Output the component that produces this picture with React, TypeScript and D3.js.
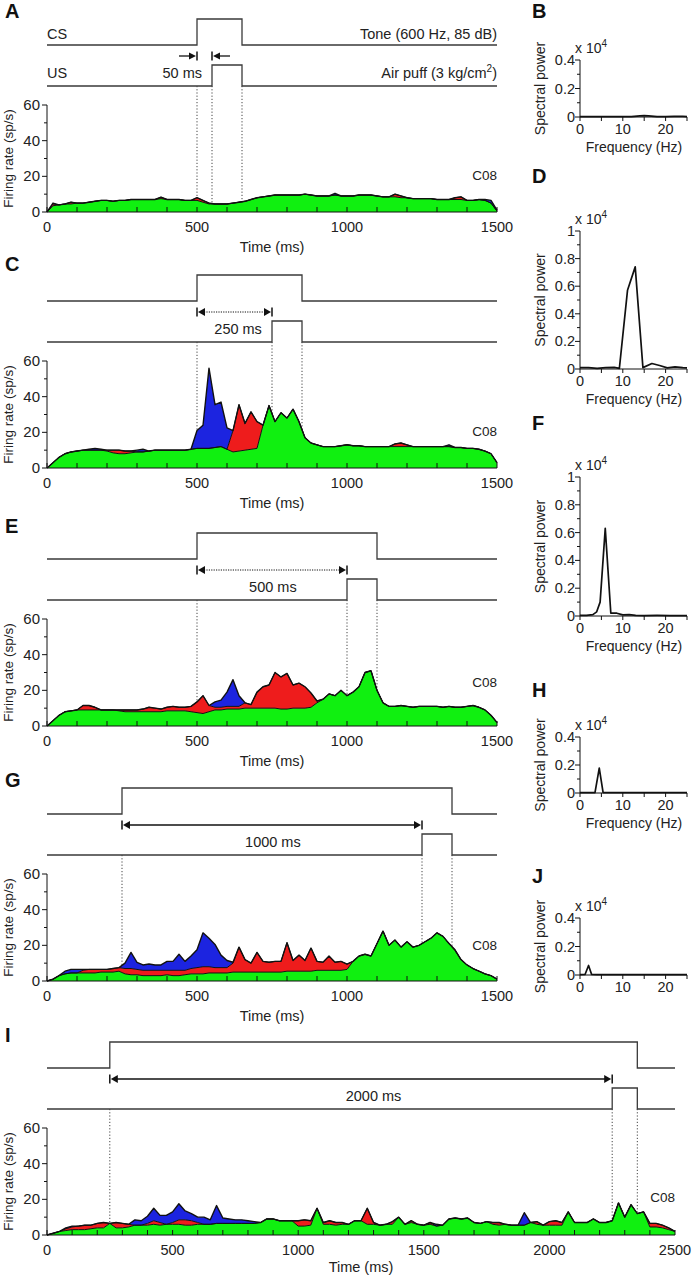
import React from "react";
import * as d3 from "d3";

const FONT = "'Liberation Sans', Arial, Helvetica, sans-serif";
const GREEN = "#10f010";
const RED = "#ee1c1c";
const BLUE = "#1c24e0";
const STIM = "#3a3a3a";

// ---------------- Firing-rate histograms (sp/s) ----------------
// A–G: 20 ms bins, 0..1500 ms; I: 25 ms bins, 0..2500 ms
// green = base layer height, red / blue = stacked layer thickness
const aGreen = [
  0, 3.5, 4, 4.5, 4.5, 5, 5, 5.5, 6, 6.5,
  6.5, 6, 6.5, 6.5, 7, 7, 7, 7, 7, 7.5,
  7, 7, 7, 6.5, 6.5, 6.5, 5.5, 4.5, 4.5, 4.5,
  4.5, 5, 5.5, 6, 7, 8, 8.5, 9, 9.5, 9.5,
  9.5, 9.5, 9.5, 10, 9.5, 9, 9, 9, 9.5, 9,
  9, 9, 9.5, 9.5, 9.5, 9, 8.5, 8.5, 8.5, 8,
  8, 7.5, 7.5, 7.5, 7.5, 7, 7, 7, 7, 7,
  6.5, 6.5, 7, 6.5, 5, 0.5,
];
const aRed = [
  0, 1, 0, 0, 1, 0, 0, 0, 0, 0,
  0, 0, 0, 0, 0, 0, 0, 0, 0, 0.8,
  0, 0, 0, 0, 0, 1.5, 1, 0.5, 0, 0,
  0, 0, 0, 0, 0, 0, 0, 0, 0, 0,
  0, 0, 0, 0, 0, 0, 0, 0, 0, 0,
  0, 0, 0, 0, 0, 0, 0, 0, 1.5, 1,
  0, 0, 0, 0, 0, 0, 0, 0, 1, 1.5,
  0, 0, 0, 0, 0, 0,
];
const aBlue = [
  0, 0.5, 0, 0, 0, 0, 0, 0, 0, 0,
  0, 0, 0, 0, 0, 0, 0, 0, 0, 0,
  0, 0, 0, 0, 0, 0, 0, 0, 0, 0,
  0, 0, 0, 0, 0, 0, 0, 0, 0, 0,
  0, 0, 0, 0, 0, 0, 0, 0, 1, 0,
  0, 0, 0, 0, 0, 0, 0, 0, 0, 0,
  0, 0, 0, 0, 0, 0, 0, 0, 0, 0,
  0, 0, 0, 0.5, 1.5, 0.5,
];

const cGreen = [
  0, 3, 6, 8, 9, 9.5, 10, 10, 10, 10,
  9.5, 8.5, 8, 8, 8.5, 9, 9, 9.5, 10, 10,
  10, 10, 10, 10, 10.5, 11, 11, 11, 11.5, 12,
  10.5, 9, 9.5, 10, 10.5, 11, 24, 35, 26, 31,
  28, 33, 26, 17, 14, 13, 12, 12, 12, 12.5,
  13, 12.5, 12.5, 12, 12, 12, 12, 12, 12, 12,
  12, 12, 12, 12, 12, 12, 12, 12, 11.5, 11.5,
  11, 11, 10.5, 9.5, 8, 3,
];
const cRed = [
  0, 0, 0, 0, 0, 0, 0, 0, 0, 0,
  0.5, 1.5, 2, 1.5, 1, 0, 0, 0, 0, 0,
  0, 0, 0, 0, 0, 0, 0, 0, 0, 0,
  0, 12, 26, 15, 21, 15, 0, 0, 0, 0,
  0, 0, 0, 0, 0, 0, 0, 0, 0, 0,
  0, 0, 0, 0, 0, 0, 0, 0, 1.5, 2,
  1, 0, 0, 0, 0, 0, 0, 0, 0, 0,
  0, 0, 0, 0, 0, 0,
];
const cBlue = [
  0, 0, 0, 0, 0, 0, 0, 0.5, 1, 0.5,
  0, 0, 0, 0, 0, 1, 1.5, 0, 0, 0,
  0, 0, 0, 0, 0, 10, 13, 45, 24, 25,
  12, 0, 0, 0, 0, 0, 0, 0, 0, 0,
  0, 0, 0, 0, 0, 0, 0, 0, 0, 0,
  0, 0, 0, 0, 0, 0, 0, 0, 0, 0,
  0, 0, 0, 0, 0, 0, 0, 1, 0, 0,
  0, 0, 0, 0, 0, 0,
];

const eGreen = [
  0, 3, 6, 8, 8.5, 9, 9, 9, 9, 9,
  9, 9, 8.5, 8, 8, 8, 8, 8, 8, 8,
  8.5, 8.5, 8.5, 8.5, 8, 7.5, 7, 8, 9, 9,
  9.5, 9.5, 9.5, 10, 10, 10, 10, 10, 10, 9.5,
  9.5, 10, 10, 10, 10.5, 13, 15, 18, 17, 20,
  17, 19, 22, 30, 31, 20, 13, 11, 11, 11.5,
  11, 10.5, 11, 11, 11, 11, 10.5, 11, 10.5, 10.5,
  11, 11.5, 10.5, 9, 6, 2,
];
const eRed = [
  0, 0, 0, 0, 0, 0, 2.5, 2.5, 1.5, 0,
  0, 0, 0.5, 1, 1, 1, 1.5, 2.5, 2, 1.5,
  2, 2.5, 2, 2, 3, 6, 10, 3.5, 1.5, 1.5,
  1.5, 1.5, 1.5, 3, 2, 9, 12, 13, 20, 18,
  20, 13, 14, 12, 8, 1, 0, 0, 0, 0,
  0, 0, 0, 0, 0, 0, 0, 0, 0, 0,
  0, 0, 0, 0, 0, 0, 0, 0, 0, 0,
  0, 0, 0, 0, 0, 0,
];
const eBlue = [
  0, 0, 0, 0, 0, 0, 0, 0, 0, 0,
  0, 0, 0, 0, 0, 0, 0, 0, 0, 0,
  0, 0, 0, 0, 0, 0, 0, 0, 3, 4,
  8, 15, 6, 0, 0, 0, 0, 0, 0, 0,
  0, 0, 0, 0, 0, 0, 0, 0, 0, 0,
  0, 0, 0, 0, 0, 0, 0, 0, 0, 0,
  0, 0, 0, 0, 0, 0, 0, 0, 0, 0,
  0, 0, 0, 0, 0, 0,
];

const gGreen = [
  0, 1, 3, 4, 4.5, 4.5, 4.5, 4.5, 4.5, 5,
  5, 5, 5.5, 4, 3.5, 3.5, 3, 3, 3, 3,
  3.5, 3, 3, 3.5, 4, 4, 4, 4.5, 4.5, 4.5,
  4.5, 5, 5, 5, 5, 5, 5, 5, 5, 5,
  5.5, 5.5, 5.5, 5.5, 5.5, 6, 6, 6, 6, 6,
  6.5, 11, 14, 15, 14, 21, 28, 20, 23, 19,
  22, 19, 20, 22, 24, 27, 25, 21, 17, 12,
  9, 7, 5.5, 4, 3, 1,
];
const gRed = [
  0, 0, 0, 0, 0, 0, 1.5, 2, 2, 1.5,
  1.5, 2, 2, 3, 3.5, 3, 3, 3, 3, 3,
  2.5, 3, 3, 2.5, 3, 3.5, 4, 3.5, 3, 3,
  3, 5, 14, 7, 5, 11, 6, 5.5, 6, 6,
  16, 6, 9, 6, 13, 5, 4.5, 8, 4.5, 5,
  3, 0, 0, 0, 0, 0, 0, 0, 0, 0,
  0, 0, 0, 0, 0, 0, 0, 0, 0.5, 0,
  0, 0, 0, 0, 0, 0,
];
const gBlue = [
  0, 0, 0, 1.5, 2, 2, 0.5, 0, 0, 0,
  0, 0, 0, 3, 9, 4, 3, 3.5, 3, 3,
  5, 5, 9, 5, 7, 10, 19, 16, 13, 7,
  4, 0.5, 0, 0, 0, 0, 0, 0, 0, 0,
  0, 0, 0, 0, 0, 0, 0, 0, 0, 0,
  0, 0, 0, 0, 0, 0, 0, 0, 0, 0,
  0, 0, 0, 0, 0, 0, 0, 0, 0, 0,
  0, 0, 0, 0, 0, 0,
];

const iGreen = [
  0, 1, 2, 2.5, 3, 3, 3, 3.5, 4, 4,
  6.5, 4, 4, 4.5, 5.5, 5.5, 5.5, 6, 5.5, 6,
  6, 6, 5.5, 5.5, 6, 6, 6, 6.5, 6.5, 6.5,
  6.5, 6.5, 6.5, 6.5, 7, 9, 9, 8, 8, 8,
  5, 5, 5.5, 15, 6, 6, 5.5, 6, 6, 8,
  8, 6, 6, 5.5, 6, 6, 10, 6, 7, 6,
  5.5, 6, 5, 5.5, 9, 9.5, 9, 9.5, 7, 6.5,
  7.5, 6, 5.5, 6, 5.5, 5.5, 5.5, 7, 6, 5.5,
  5.5, 5.5, 5.5, 13, 7, 7, 7, 9, 7, 7,
  8, 18, 10, 17, 12, 13, 4.5, 4.5, 4, 3,
  2,
];
const iRed = [
  0, 0, 0, 1, 1.5, 2, 2.5, 2, 2.5, 3,
  0, 3, 2.5, 1.5, 0, 0, 1, 2, 1.5, 0,
  1, 2.5, 3, 2.5, 1, 0, 0, 0, 0, 0,
  0, 0, 0, 0, 0, 0, 0, 0, 0, 0,
  3, 3.5, 2.5, 0, 1, 2, 1.5, 1, 0, 0,
  0, 9, 1, 0, 0, 1.5, 0, 0, 1, 0,
  0, 1, 0, 0, 0, 0, 0, 0, 0, 0,
  0, 1, 1.5, 0, 0, 0, 0, 0, 1.5, 0,
  2, 2.5, 1.5, 0, 0, 0, 0, 0, 0, 0,
  0, 0, 0, 0, 0, 0, 2, 2, 1.5, 1,
  0,
];
const iBlue = [
  0, 0, 0, 0.5, 0.5, 0, 0, 0, 0, 0,
  0, 0, 0, 0, 3, 2.5, 4, 7, 4, 5,
  6, 9, 5, 4, 3, 4, 2.5, 10, 3, 2.5,
  2, 2, 1.5, 1, 0, 0, 0, 0, 0, 0,
  0, 0, 0, 0, 0, 0, 0, 0, 0, 0,
  0, 0, 0, 0, 0, 0, 0, 0, 0, 0,
  0, 0, 1, 0, 0, 0, 0, 0, 0, 0,
  0, 0, 0, 0, 0, 0, 7, 0, 0, 0,
  0, 0, 0, 0, 0, 0, 0, 0, 0, 0,
  0, 0, 0, 0, 0, 0, 0, 0, 0, 0,
  0,
];

// ---------------- Spectral power (x 10^4) ----------------
const bFreq = [0, 2, 4, 6, 8, 10, 12, 14, 15, 16, 18, 20, 22, 24, 25];
const bPow = [0.003, 0.003, 0.002, 0.002, 0.002, 0.002, 0.003, 0.008, 0.01, 0.008, 0.003, 0.002, 0.004, 0.005, 0.003];
const dFreq = [0, 2, 4, 6, 8, 9.2, 11.1, 12.9, 14.7, 16.8, 18.6, 20.4, 22.2, 24, 25];
const dPow = [0.01, 0.01, 0.005, 0.01, 0.012, 0.005, 0.57, 0.74, 0.01, 0.04, 0.025, 0.008, 0.015, 0.01, 0.008];
const fFreq = [0, 1.5, 3, 3.9, 4.7, 5.9, 7.2, 8.6, 10, 11.5, 13, 15, 18, 21, 25];
const fPow = [0.005, 0.005, 0.01, 0.03, 0.1, 0.63, 0.02, 0.02, 0.008, 0.01, 0.005, 0.003, 0.004, 0.003, 0.002];
const hFreq = [0, 2, 3.5, 4.5, 5.4, 7, 10, 15, 20, 25];
const hPow = [0.002, 0.002, 0.003, 0.178, 0.003, 0.002, 0.002, 0.002, 0.002, 0.002];
const jFreq = [0, 1.2, 2.0, 2.7, 4, 8, 15, 25];
const jPow = [0.003, 0.005, 0.067, 0.005, 0.003, 0.003, 0.002, 0.002];

const timeTickLabels1500 = [0, 500, 1000, 1500];
const timeTickLabels2500 = [0, 500, 1000, 1500, 2000, 2500];
const rateTickLabels = [0, 20, 40, 60];
const freqTickLabels = [0, 10, 20];

type FiringCfg = {
  letter: string;
  top: number;
  tMax: number;
  step: number;
  green: number[];
  red: number[];
  blue: number[];
  xRight: number;
  csOn: number;
  usOn: number;
  usOff: number;
  kind: "A" | "dotted" | "solid";
  durText: string;
  durT: number;
  c08Off: number;
  letterOff: number;
  timeLabels: number[];
  titleOff: number;
};

const FIRING: FiringCfg[] = [
  { letter: "A", top: 19, tMax: 1500, step: 20, green: aGreen, red: aRed, blue: aBlue, xRight: 497, csOn: 500, usOn: 550, usOff: 650, kind: "A", durText: "50 ms", durT: 0, c08Off: 32, letterOff: -1, timeLabels: timeTickLabels1500, titleOff: 40 },
  { letter: "C", top: 275, tMax: 1500, step: 20, green: cGreen, red: cRed, blue: cBlue, xRight: 497, csOn: 500, usOn: 750, usOff: 850, kind: "dotted", durText: "250 ms", durT: 637, c08Off: 32, letterOff: -4, timeLabels: timeTickLabels1500, titleOff: 40 },
  { letter: "E", top: 533, tMax: 1500, step: 20, green: eGreen, red: eRed, blue: eBlue, xRight: 497, csOn: 500, usOn: 1000, usOff: 1100, kind: "dotted", durText: "500 ms", durT: 753, c08Off: 39, letterOff: 0, timeLabels: timeTickLabels1500, titleOff: 40 },
  { letter: "G", top: 788, tMax: 1500, step: 20, green: gGreen, red: gRed, blue: gBlue, xRight: 497, csOn: 250, usOn: 1250, usOff: 1350, kind: "solid", durText: "1000 ms", durT: 753, c08Off: 31, letterOff: -1, timeLabels: timeTickLabels1500, titleOff: 40 },
  { letter: "I", top: 1042, tMax: 2500, step: 25, green: iGreen, red: iRed, blue: iBlue, xRight: 675, csOn: 250, usOn: 2250, usOff: 2350, kind: "solid", durText: "2000 ms", durT: 1300, c08Off: 33, letterOff: 0, timeLabels: timeTickLabels2500, titleOff: 37 },
];

type SpecCfg = {
  letter: string;
  letterY: number;
  top: number;
  bottom: number;
  yMax: number;
  freq: number[];
  pow: number[];
  showXTitle: boolean;
};

const SPECTRA: SpecCfg[] = [
  { letter: "B", letterY: 18, top: 60, bottom: 117, yMax: 0.4, freq: bFreq, pow: bPow, showXTitle: true },
  { letter: "D", letterY: 183, top: 231, bottom: 369, yMax: 1, freq: dFreq, pow: dPow, showXTitle: true },
  { letter: "F", letterY: 430, top: 477, bottom: 616, yMax: 1, freq: fFreq, pow: fPow, showXTitle: true },
  { letter: "H", letterY: 697, top: 737, bottom: 793, yMax: 0.4, freq: hFreq, pow: hPow, showXTitle: true },
  { letter: "J", letterY: 883, top: 918, bottom: 975, yMax: 0.4, freq: jFreq, pow: jPow, showXTitle: false },
];

const X0 = 47;

function FiringPanel({ cfg }: { cfg: FiringCfg }) {
  const { top, tMax, step, green, red, blue, xRight } = cfg;
  const x = d3.scaleLinear().domain([0, tMax]).range([X0, xRight]);
  const y = d3.scaleLinear().domain([0, 60]).range([top + 193, top + 86]);
  const y0 = y(0);

  const pts = green.map((g, i) => {
    const r = g + (red[i] || 0);
    const b = r + (blue[i] || 0);
    return { t: i * step, g, r, b };
  });
  type P = (typeof pts)[number];
  const areaG = d3.area<P>().x((d) => x(d.t)).y0(y0).y1((d) => y(d.g))(pts) || "";
  const areaR = d3.area<P>().x((d) => x(d.t)).y0((d) => y(d.g)).y1((d) => y(d.r))(pts) || "";
  const areaB = d3.area<P>().x((d) => x(d.t)).y0((d) => y(d.r)).y1((d) => y(d.b))(pts) || "";
  const lineG = d3.line<P>().x((d) => x(d.t)).y((d) => y(d.g))(pts) || "";
  const lineR = d3.line<P>().x((d) => x(d.t)).y((d) => y(d.r))(pts) || "";
  const lineB = d3.line<P>().x((d) => x(d.t)).y((d) => y(d.b))(pts) || "";

  const csHigh = top;
  const csLow = top + 26;
  const arrowY = top + 37;
  const usHigh = top + 46;
  const usLow = top + 67;
  const xOn = x(cfg.csOn);
  const xUs = x(cfg.usOn);
  const xOff = x(cfg.usOff);

  const csPath = `M${X0},${csLow}H${xOn}V${csHigh}H${xOff}V${csLow}H${xRight}`;
  const usPath = `M${X0},${usLow}H${xUs}V${usHigh}H${xOff}V${usLow}H${xRight}`;

  const minorX = d3.range(0, tMax + 1, 100);
  const yTicks = d3.range(0, 61, 10);

  return (
    <g>
      <text x={5} y={top + cfg.letterOff} fontSize={20} fontWeight="bold" fill="#111">
        {cfg.letter}
      </text>
      {/* stimulus traces */}
      <path d={csPath} fill="none" stroke={STIM} strokeWidth={1.3} />
      <path d={usPath} fill="none" stroke={STIM} strokeWidth={1.3} />
      {/* dotted event markers */}
      {[xOn, xUs, xOff].map((xx, i) => (
        <line key={i} x1={xx} x2={xx} y1={usLow} y2={y0} stroke="#444" strokeWidth={1} strokeDasharray="1.2,2" />
      ))}
      {cfg.kind === "A" ? (
        <g stroke="#111" fill="#111">
          <line x1={xOn - 18} x2={xOn - 6} y1={arrowY} y2={arrowY} strokeWidth={1.3} />
          <path d={`M${xOn - 8},${arrowY - 3.5}L${xOn - 1},${arrowY}L${xOn - 8},${arrowY + 3.5}Z`} stroke="none" />
          <line x1={xOn} x2={xOn} y1={arrowY - 4.5} y2={arrowY + 4.5} strokeWidth={1.5} />
          <line x1={xUs} x2={xUs} y1={arrowY - 4.5} y2={arrowY + 4.5} strokeWidth={1.5} />
          <path d={`M${xUs + 8},${arrowY - 3.5}L${xUs + 1},${arrowY}L${xUs + 8},${arrowY + 3.5}Z`} stroke="none" />
          <line x1={xUs + 6} x2={xUs + 18} y1={arrowY} y2={arrowY} strokeWidth={1.3} />
        </g>
      ) : (
        <g stroke="#111" fill="#111">
          <line
            x1={xOn + 7}
            x2={xUs - 7}
            y1={arrowY}
            y2={arrowY}
            strokeWidth={cfg.kind === "dotted" ? 1 : 1.3}
            strokeDasharray={cfg.kind === "dotted" ? "1.2,1.2" : undefined}
          />
          <line x1={xOn} x2={xOn} y1={arrowY - 4.5} y2={arrowY + 4.5} strokeWidth={1.5} />
          <path d={`M${xOn + 8},${arrowY - 4}L${xOn + 1},${arrowY}L${xOn + 8},${arrowY + 4}Z`} stroke="none" />
          <line x1={xUs} x2={xUs} y1={arrowY - 4.5} y2={arrowY + 4.5} strokeWidth={1.5} />
          <path d={`M${xUs - 8},${arrowY - 4}L${xUs - 1},${arrowY}L${xUs - 8},${arrowY + 4}Z`} stroke="none" />
        </g>
      )}
      {cfg.kind === "A" ? (
        <g fontSize={14.5} fill="#222">
          <text x={X0} y={csLow - 6}>CS</text>
          <text x={xRight} y={csLow - 6} textAnchor="end">Tone (600 Hz, 85 dB)</text>
          <text x={X0} y={usLow - 8}>US</text>
          <text x={xUs - 10} y={usLow - 8} textAnchor="end">{cfg.durText}</text>
          <text x={xRight} y={usLow - 8} textAnchor="end">
            Air puff (3 kg/cm
            <tspan fontSize={10} dy={-6}>2</tspan>
            <tspan dy={6}>)</tspan>
          </text>
        </g>
      ) : (
        <text x={x(cfg.durT)} y={top + 59} fontSize={14.5} textAnchor="middle" fill="#222">
          {cfg.durText}
        </text>
      )}

      {/* stacked firing-rate areas */}
      <path d={areaG} fill={GREEN} />
      <path d={areaR} fill={RED} />
      <path d={areaB} fill={BLUE} />
      <path d={lineG} fill="none" stroke="#111" strokeWidth={1} strokeLinejoin="round" />
      <path d={lineR} fill="none" stroke="#111" strokeWidth={1} strokeLinejoin="round" />
      <path d={lineB} fill="none" stroke="#111" strokeWidth={1.4} strokeLinejoin="round" />

      {/* axes */}
      <line x1={X0} x2={X0} y1={y(60)} y2={y0} stroke="#111" strokeWidth={1} />
      <line x1={X0} x2={xRight} y1={y0} y2={y0} stroke="#111" strokeWidth={1} />
      {yTicks.map((v) => (
        <line key={v} x1={X0 - (v % 20 === 0 ? 5 : 3)} x2={X0} y1={y(v)} y2={y(v)} stroke="#111" strokeWidth={1} />
      ))}
      {rateTickLabels.map((v) => (
        <text key={v} x={X0 - 7} y={y(v) + 5} fontSize={15} textAnchor="end" fill="#222">
          {v}
        </text>
      ))}
      {minorX.map((v) => (
        <line key={v} x1={x(v)} x2={x(v)} y1={y0 - 5} y2={y0} stroke="#111" strokeWidth={1} />
      ))}
      {cfg.timeLabels.map((v) => (
        <text key={v} x={x(v)} y={y0 + 20} fontSize={14.5} textAnchor="middle" fill="#222">
          {v}
        </text>
      ))}
      <text x={(X0 + xRight) / 2} y={y0 + cfg.titleOff} fontSize={14.5} textAnchor="middle" fill="#222">
        Time (ms)
      </text>
      <text
        transform={`translate(13,${(y(60) + y0) / 2}) rotate(-90)`}
        fontSize={13.5}
        textAnchor="middle"
        fill="#222"
      >
        Firing rate (sp/s)
      </text>
      <text x={xRight} y={y0 - cfg.c08Off} fontSize={13.5} textAnchor="end" fill="#222">
        C08
      </text>
    </g>
  );
}

function SpectrumPanel({ cfg }: { cfg: SpecCfg }) {
  const xL = 580;
  const x = d3.scaleLinear().domain([0, 25]).range([xL, 687]);
  const y = d3.scaleLinear().domain([0, cfg.yMax]).range([cfg.bottom, cfg.top]);
  const pts = cfg.freq.map((f, i) => [f, cfg.pow[i]] as [number, number]);
  const line = d3.line<[number, number]>().x((d) => x(d[0])).y((d) => y(d[1]))(pts) || "";
  const nMinor = Math.round(cfg.yMax / 0.1);
  const yTicks = d3.range(0, nMinor + 1).map((k) => +(k * 0.1).toFixed(1));
  const xTicks = d3.range(0, 26, 5);
  const fmt = (v: number) => (v === 0 ? "0" : v === 1 ? "1" : v.toFixed(1));
  return (
    <g>
      <text x={532} y={cfg.letterY} fontSize={20} fontWeight="bold" fill="#111">
        {cfg.letter}
      </text>
      <text x={575} y={cfg.top - 7} fontSize={14} fill="#222">
        x 10<tspan fontSize={10} dy={-6}>4</tspan>
      </text>
      <line x1={xL} x2={xL} y1={cfg.top} y2={cfg.bottom} stroke="#111" strokeWidth={1} />
      <line x1={xL} x2={x(25)} y1={cfg.bottom} y2={cfg.bottom} stroke="#111" strokeWidth={1} />
      {yTicks.map((v, k) => (
        <line key={k} x1={xL - (k % 2 === 0 ? 5 : 3)} x2={xL} y1={y(v)} y2={y(v)} stroke="#111" strokeWidth={1} />
      ))}
      {yTicks
        .filter((_, k) => k % 2 === 0)
        .map((v, k) => (
          <text key={k} x={575} y={y(v) + 5} fontSize={14.5} textAnchor="end" fill="#222">
            {fmt(v)}
          </text>
        ))}
      {xTicks.map((v) => (
        <line key={v} x1={x(v)} x2={x(v)} y1={cfg.bottom} y2={cfg.bottom + 4} stroke="#111" strokeWidth={1} />
      ))}
      {freqTickLabels.map((v) => (
        <text key={v} x={x(v)} y={cfg.bottom + 17} fontSize={14.5} textAnchor="middle" fill="#222">
          {v}
        </text>
      ))}
      {cfg.showXTitle && (
        <text x={634} y={cfg.bottom + 35} fontSize={14} textAnchor="middle" fill="#222">
          Frequency (Hz)
        </text>
      )}
      <text
        transform={`translate(545,${(cfg.top + cfg.bottom) / 2}) rotate(-90)`}
        fontSize={14}
        textAnchor="middle"
        fill="#222"
      >
        Spectral power
      </text>
      <path d={line} fill="none" stroke="#111" strokeWidth={1.7} strokeLinejoin="round" />
    </g>
  );
}

export default function App() {
  return (
    <svg
      width={692}
      height={1280}
      viewBox="0 0 692 1280"
      style={{ position: "absolute", left: 0, top: 0, display: "block" }}
      fontFamily={FONT}
    >
      <rect x={0} y={0} width={692} height={1280} fill="#fff" />
      {FIRING.map((c) => (
        <FiringPanel key={c.letter} cfg={c} />
      ))}
      {SPECTRA.map((c) => (
        <SpectrumPanel key={c.letter} cfg={c} />
      ))}
    </svg>
  );
}
